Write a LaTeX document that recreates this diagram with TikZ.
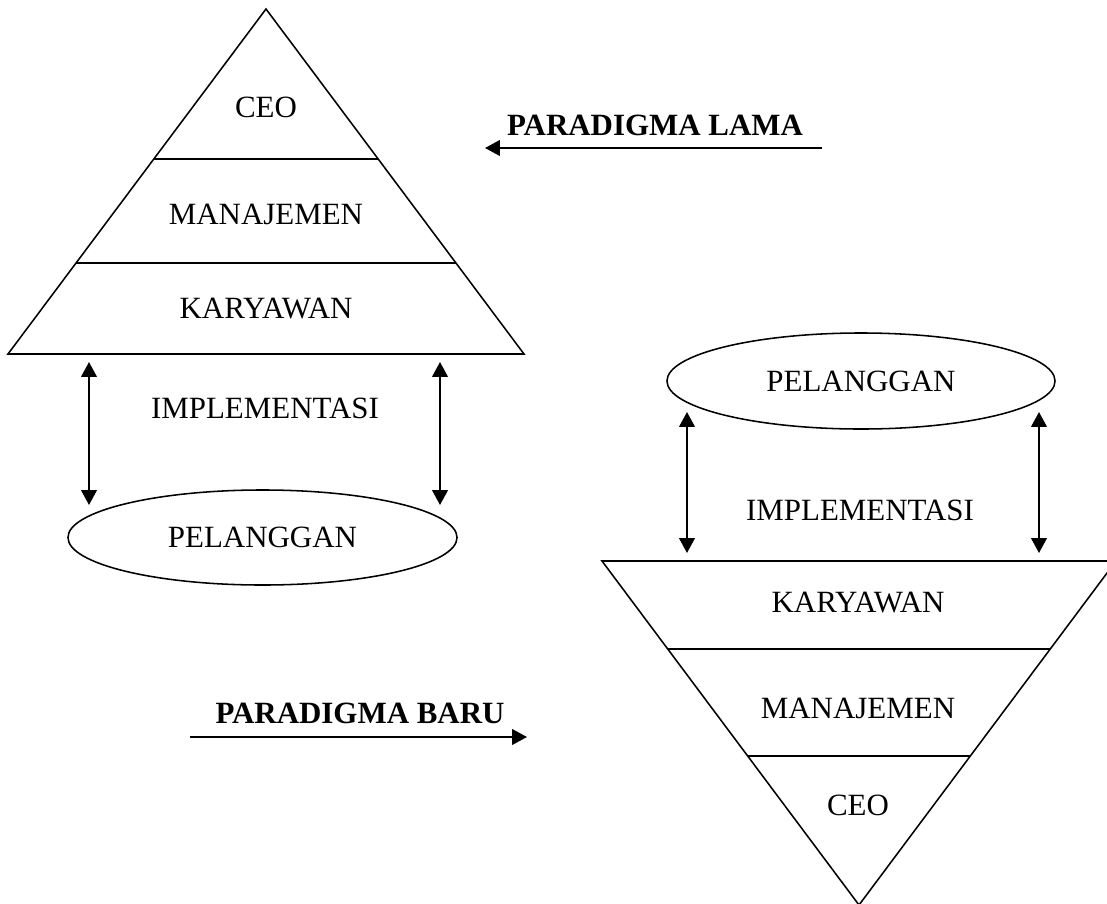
\documentclass[tikz,border=0pt]{standalone}
\usepackage{fontspec}
\setmainfont{Liberation Serif}
\usetikzlibrary{shapes,arrows.meta,calc}

\begin{document}
\begin{tikzpicture}[x=0.025cm,y=-0.025cm]
        \tikzstyle{every path}=[line width=1.1pt]

        \edef\sizefont{\noexpand\fontsize{22}{26}\noexpand\selectfont}
        \tikzstyle{lvl}=[draw=none,font=\sizefont]
        \tikzstyle{head}=[draw=none,font=\sizefont\bfseries]
        \tikzstyle{cust}=[draw,ellipse,inner sep=0pt,font=\sizefont]
        \tikzstyle{link}=[line width=1.4pt,{Triangle[length=10.5pt,width=11pt]}-{Triangle[length=10.5pt,width=11pt]}]
        \tikzstyle{turn}=[line width=1.4pt,-{Triangle[length=10.5pt,width=11pt]}]

        \useasboundingbox (0,0) rectangle (1107,903);

        % paradigma lama
        \coordinate (lt) at (266,9);
        \coordinate (ll) at (8,354);
        \coordinate (lr) at (524,354);
        \draw (lt) -- (ll) -- (lr) -- cycle;
        \draw ($(lt)!0.435!(ll)$) -- ($(lt)!0.435!(lr)$);
        \draw ($(lt)!0.736!(ll)$) -- ($(lt)!0.736!(lr)$);
        \node [lvl] (lama_ceo) at (266,107) {CEO};
        \node [lvl] (lama_man) at (266,214) {MANAJEMEN};
        \node [lvl] (lama_kar) at (266,309) {KARYAWAN};

        \node [cust,minimum width=9.725cm,minimum height=2.375cm] (lama_pel) at (262.5,537.5) {PELANGGAN};
        \node [lvl] (lama_imp) at (265,408) {IMPLEMENTASI};
        \coordinate (la1) at (89,362);  \coordinate (lb1) at (89,505);
        \coordinate (la2) at (440,362); \coordinate (lb2) at (440,505);
        \draw [link] (la1) -- (lb1);
        \draw [link] (la2) -- (lb2);

        \node [head] (lama) at (655,125) {PARADIGMA LAMA};
        \coordinate (lama_s) at (822,148);
        \coordinate (lama_e) at (485,148);
        \draw [turn] (lama_s) -- (lama_e);

        % paradigma baru
        \node [cust,minimum width=9.7cm,minimum height=2.4cm] (baru_pel) at (861,381) {PELANGGAN};
        \node [lvl] (baru_imp) at (860,510) {IMPLEMENTASI};
        \coordinate (ra1) at (687,412);  \coordinate (rb1) at (687,553);
        \coordinate (ra2) at (1039,412); \coordinate (rb2) at (1039,553);
        \draw [link] (ra1) -- (rb1);
        \draw [link] (ra2) -- (rb2);

        \coordinate (bl) at (602,561);
        \coordinate (br) at (1116,561);
        \coordinate (bb) at (859,905);
        \draw (bl) -- (br) -- (bb) -- cycle;
        \draw ($(bb)!0.744!(bl)$) -- ($(bb)!0.744!(br)$);
        \draw ($(bb)!0.433!(bl)$) -- ($(bb)!0.433!(br)$);
        \node [lvl] (baru_kar) at (858,603) {KARYAWAN};
        \node [lvl] (baru_man) at (858,708) {MANAJEMEN};
        \node [lvl] (baru_ceo) at (858,805) {CEO};

        \node [head] (baru) at (360,713) {PARADIGMA BARU};
        \coordinate (baru_s) at (190,737);
        \coordinate (baru_e) at (527,737);
        \draw [turn] (baru_s) -- (baru_e);

\end{tikzpicture}
\end{document}
